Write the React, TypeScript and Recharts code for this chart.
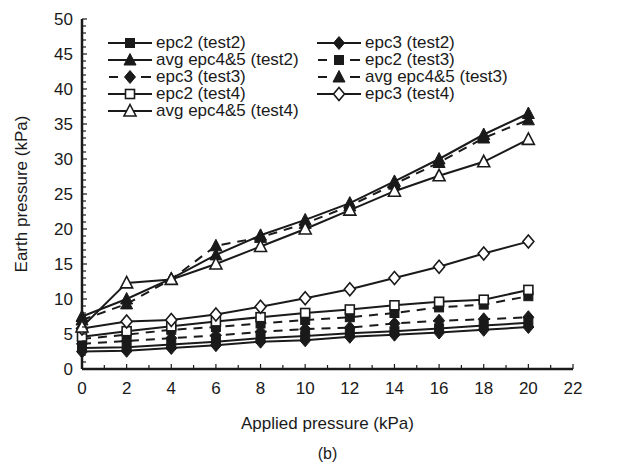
import React from 'react';
import { LineChart, Line, XAxis, YAxis } from 'recharts';

// applied pressure (kPa)
const applied = [0, 2, 4, 6, 8, 10, 12, 14, 16, 18, 20];

// earth pressure (kPa) per series
const epc2Test2 = [3.0, 3.1, 3.5, 3.9, 4.4, 4.7, 5.1, 5.4, 5.8, 6.2, 6.6];
const epc3Test2 = [2.5, 2.6, 3.0, 3.4, 3.9, 4.1, 4.6, 4.9, 5.2, 5.6, 6.0];
const avgTest2 = [7.5, 10.0, 12.9, 16.3, 19.1, 21.3, 23.7, 26.8, 30.0, 33.5, 36.5];
const epc2Test3 = [4.3, 4.9, 5.6, 6.0, 6.5, 7.0, 7.4, 8.0, 8.8, 9.2, 10.4];
const epc3Test3 = [3.6, 4.0, 4.4, 4.8, 5.3, 5.7, 5.9, 6.5, 6.9, 7.1, 7.4];
const avgTest3 = [7.0, 9.3, 12.8, 17.6, 18.8, 20.8, 23.3, 26.4, 29.5, 33.0, 35.6];
const epc2Test4 = [4.6, 5.4, 6.1, 6.8, 7.4, 8.0, 8.5, 9.1, 9.6, 9.9, 11.3];
const epc3Test4 = [5.8, 6.8, 7.0, 7.8, 8.9, 10.1, 11.4, 13.0, 14.6, 16.5, 18.2];
const avgTest4 = [6.0, 12.3, 12.8, 15.0, 17.5, 20.0, 22.7, 25.4, 27.6, 29.6, 32.8];

const yTicks = Array.from({ length: 51 }, (_, i) => i);
const xTicks = Array.from({ length: 23 }, (_, i) => i);

type Shape = 'square' | 'diamond' | 'triangle';

interface SeriesDef {
  key: string;
  name: string;
  values: number[];
  shape: Shape;
  filled: boolean;
  dashed: boolean;
}

const series: SeriesDef[] = [
  { key: 's1', name: 'epc2 (test2)', values: epc2Test2, shape: 'square', filled: true, dashed: false },
  { key: 's2', name: 'epc3 (test2)', values: epc3Test2, shape: 'diamond', filled: true, dashed: false },
  { key: 's3', name: 'avg epc4&5 (test2)', values: avgTest2, shape: 'triangle', filled: true, dashed: false },
  { key: 's4', name: 'epc2 (test3)', values: epc2Test3, shape: 'square', filled: true, dashed: true },
  { key: 's5', name: 'epc3 (test3)', values: epc3Test3, shape: 'diamond', filled: true, dashed: true },
  { key: 's6', name: 'avg epc4&5 (test3)', values: avgTest3, shape: 'triangle', filled: true, dashed: true },
  { key: 's7', name: 'epc2 (test4)', values: epc2Test4, shape: 'square', filled: false, dashed: false },
  { key: 's8', name: 'epc3 (test4)', values: epc3Test4, shape: 'diamond', filled: false, dashed: false },
  { key: 's9', name: 'avg epc4&5 (test4)', values: avgTest4, shape: 'triangle', filled: false, dashed: false },
];

const data = applied.map((x, i) => {
  const row: Record<string, number> = { x };
  series.forEach((s) => {
    row[s.key] = s.values[i];
  });
  return row;
});

const INK = '#1a1a1a';
const FONT = '"Liberation Sans", Arial, sans-serif';

function marker(shape: Shape, filled: boolean, cx: number, cy: number, key?: string) {
  const fill = filled ? INK : '#fff';
  const sw = filled ? 1 : 1.6;
  if (shape === 'square') {
    const h = 4.5;
    return <rect key={key} x={cx - h} y={cy - h} width={h * 2} height={h * 2} fill={fill} stroke={INK} strokeWidth={sw} />;
  }
  if (shape === 'diamond') {
    const w = 5.5;
    const h = 6.5;
    return (
      <polygon
        key={key}
        points={`${cx},${cy - h} ${cx + w},${cy} ${cx},${cy + h} ${cx - w},${cy}`}
        fill={fill}
        stroke={INK}
        strokeWidth={sw}
      />
    );
  }
  const w = 6;
  return (
    <polygon
      key={key}
      points={`${cx},${cy - 6.5} ${cx + w},${cy + 5} ${cx - w},${cy + 5}`}
      fill={fill}
      stroke={INK}
      strokeWidth={sw}
    />
  );
}

const YTick = (props: { x?: number; y?: number; payload?: { value: number } }) => {
  const { x = 0, y = 0, payload } = props;
  const v = payload ? payload.value : 0;
  const major = v % 5 === 0;
  return (
    <g>
      <line x1={x} y1={y} x2={x + (major ? 5 : 4)} y2={y} stroke={INK} strokeWidth={1.2} />
      {major && (
        <text x={x - 9} y={y} textAnchor="end" dominantBaseline="central" fill={INK} fontSize={17} fontFamily={FONT}>
          {v}
        </text>
      )}
    </g>
  );
};

const XTick = (props: { x?: number; y?: number; payload?: { value: number } }) => {
  const { x = 0, y = 0, payload } = props;
  const v = payload ? payload.value : 0;
  const major = v % 2 === 0;
  return (
    <g>
      <line x1={x} y1={y} x2={x} y2={y - (major ? 5 : 4)} stroke={INK} strokeWidth={1.2} />
      {major && (
        <text x={x} y={y + 19} textAnchor="middle" dominantBaseline="central" fill={INK} fontSize={17} fontFamily={FONT}>
          {v}
        </text>
      )}
    </g>
  );
};

const YTitle = (props: { viewBox?: { x: number; y: number; width: number; height: number } }) => {
  const vb = props.viewBox || { x: 0, y: 0, width: 0, height: 0 };
  return (
    <text
      transform={`translate(${vb.x + 21},${vb.y + vb.height / 2}) rotate(-90)`}
      textAnchor="middle"
      dominantBaseline="central"
      fill={INK}
      fontSize={17}
      fontFamily={FONT}
    >
      Earth pressure (kPa)
    </text>
  );
};

const XTitle = (props: { viewBox?: { x: number; y: number; width: number; height: number } }) => {
  const vb = props.viewBox || { x: 0, y: 0, width: 0, height: 0 };
  const cx = vb.x + vb.width / 2;
  return (
    <g>
      <text x={cx} y={vb.y + 54} textAnchor="middle" dominantBaseline="central" fill={INK} fontSize={17} fontFamily={FONT}>
        Applied pressure (kPa)
      </text>
      <text x={cx} y={vb.y + 84} textAnchor="middle" dominantBaseline="central" fill={INK} fontSize={16} fontFamily={FONT}>
        (b)
      </text>
    </g>
  );
};

function LegendBox() {
  const cols = [107, 316];
  const rowY = [43, 60, 77, 94, 111];
  return (
    <div style={{ position: 'absolute', left: 0, top: 0, width: 617, height: 130, pointerEvents: 'none' }}>
      {series.map((s, i) => {
        const col = i % 2;
        const row = Math.floor(i / 2);
        return (
          <div
            key={s.key}
            style={{
              position: 'absolute',
              left: cols[col],
              top: rowY[row] - 8,
              height: 16,
              display: 'flex',
              alignItems: 'center',
              fontFamily: FONT,
              fontSize: 17,
              lineHeight: '16px',
              color: INK,
              whiteSpace: 'nowrap',
            }}
          >
            <svg width={46} height={16} style={{ marginRight: 3, display: 'block' }}>
              {s.dashed ? (
                <g stroke={INK} strokeWidth={2}>
                  <line x1={2} y1={8} x2={11} y2={8} />
                  <line x1={34} y1={8} x2={44} y2={8} />
                </g>
              ) : (
                <line x1={1} y1={8} x2={45} y2={8} stroke={INK} strokeWidth={2} />
              )}
              {marker(s.shape, s.filled, 23, 8)}
            </svg>
            <span style={{ lineHeight: '16px', height: 16, display: 'block' }}>{s.name}</span>
          </div>
        );
      })}
    </div>
  );
}

export default function App() {
  return (
    <div style={{ position: 'absolute', left: 0, top: 0, width: 617, height: 465, background: '#fff' }}>
      <LineChart width={617} height={465} data={data} margin={{ top: 19, right: 44, bottom: 0, left: 0 }}>
        <XAxis
          dataKey="x"
          type="number"
          domain={[0, 22]}
          ticks={xTicks}
          interval={0}
          height={96}
          tickSize={0}
          tickMargin={0}
          tickLine={false}
          tick={<XTick />}
          axisLine={{ stroke: INK, strokeWidth: 2.5 }}
          label={<XTitle />}
        />
        <YAxis
          type="number"
          domain={[0, 50]}
          ticks={yTicks}
          interval={0}
          width={82}
          tickSize={0}
          tickMargin={0}
          tickLine={false}
          tick={<YTick />}
          axisLine={{ stroke: INK, strokeWidth: 2.5 }}
          label={<YTitle />}
        />
        {series.map((s) => (
          <Line
            key={s.key}
            dataKey={s.key}
            name={s.name}
            type="linear"
            stroke={INK}
            strokeWidth={2}
            strokeDasharray={s.dashed ? '9 7' : undefined}
            isAnimationActive={false}
            activeDot={false}
            dot={(p: { cx?: number; cy?: number; index?: number }) =>
              marker(s.shape, s.filled, p.cx ?? 0, p.cy ?? 0, `${s.key}-${p.index}`)
            }
          />
        ))}
      </LineChart>
      <LegendBox />
    </div>
  );
}
